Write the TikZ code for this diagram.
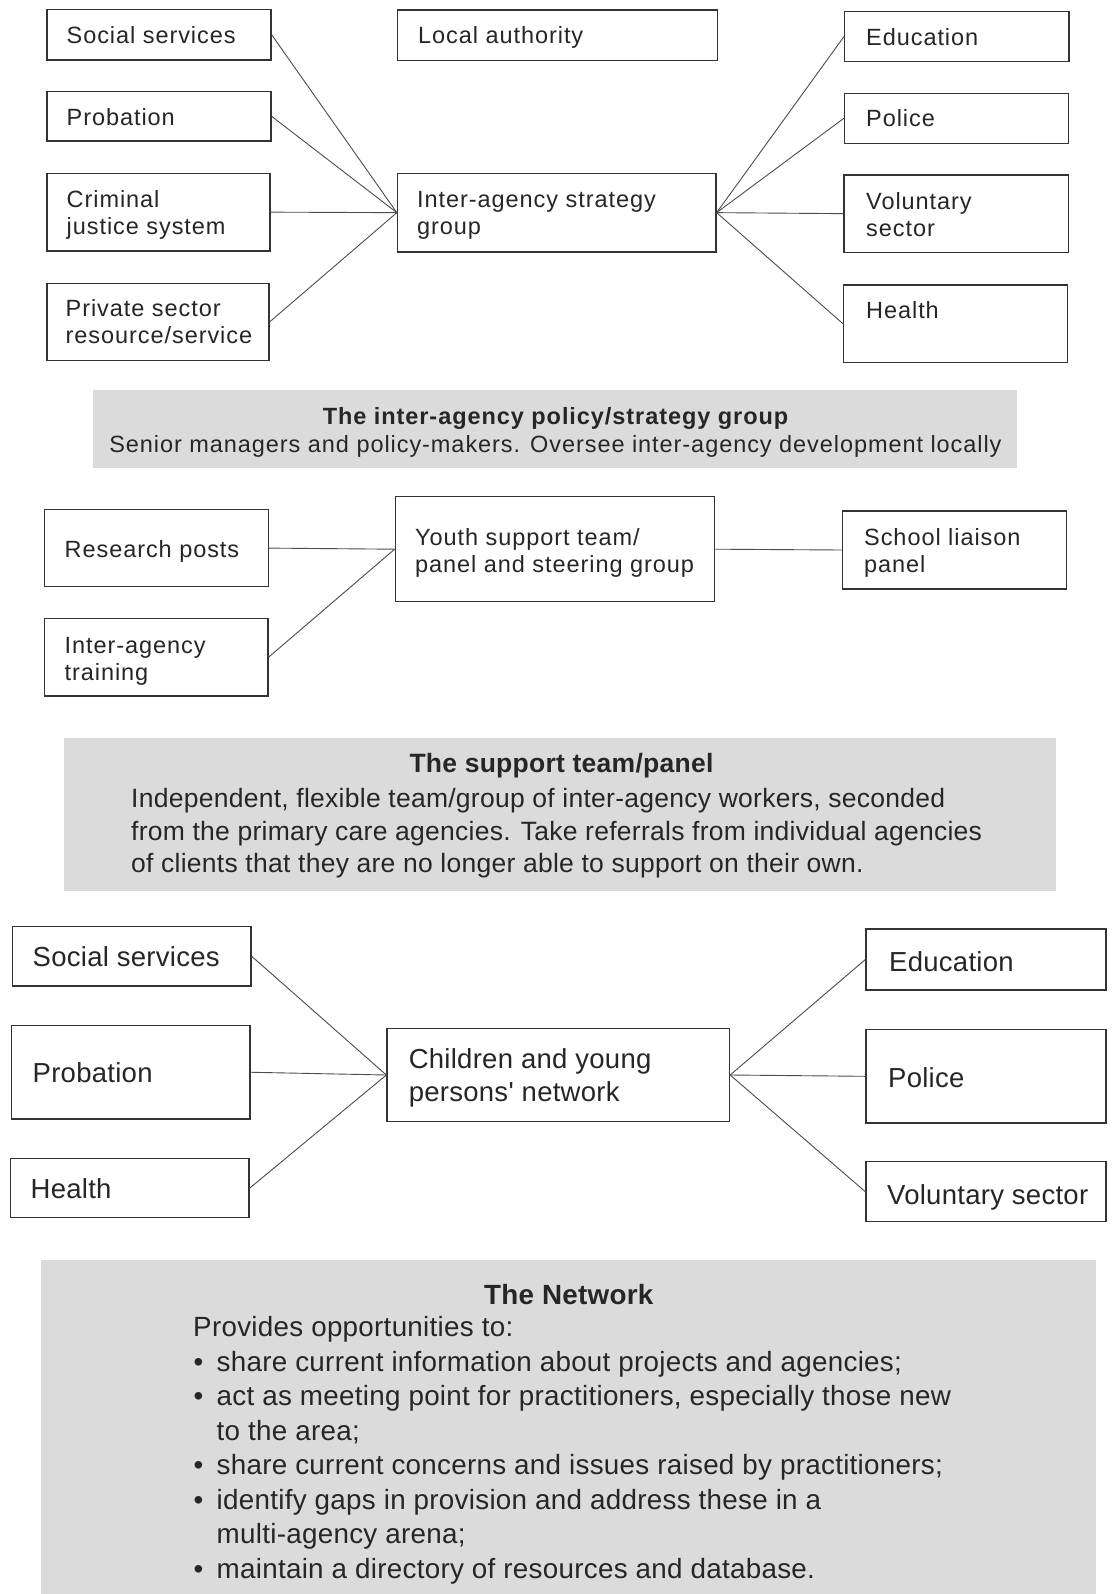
\documentclass[tikz,border=0pt]{standalone}
\usepackage{fontspec}
\setmainfont{Liberation Sans}
\newfontfamily\trackedfont[LetterSpace=4]{Liberation Sans}
\newfontfamily\lowerfont[LetterSpace=1]{Liberation Sans}
\usetikzlibrary{fit}

\newcommand\upperlbl{\trackedfont\fontsize{23.5}{27}\selectfont}
\newcommand\lowerlbl{\lowerfont\fontsize{27.5}{32}\selectfont}
\newcommand\panellbl{\lowerfont\fontsize{26.5}{32}\selectfont}
\newcommand\netlbl{\lowerfont\fontsize{27.8}{34}\selectfont}

\begin{document}
\begin{tikzpicture}[x=1pt,y=-1pt,
  agency/.style={draw=black!80, line width=1.3pt, inner sep=0pt},
  link/.style={draw=black!70, line width=0.9pt},
  band/.style={fill=black!14, draw=none},
  utxt/.style={inner sep=0pt, anchor=base west, text=black!85, font=\upperlbl},
  ltxt/.style={inner sep=0pt, anchor=base west, text=black!85, font=\lowerlbl},
  ptxt/.style={inner sep=0pt, anchor=base west, text=black!85, font=\panellbl},
  ntxt/.style={inner sep=0pt, anchor=base west, text=black!85, font=\netlbl},
  uhead/.style={inner sep=0pt, anchor=base, text=black!85, font=\upperlbl\bfseries},
  ubody/.style={inner sep=0pt, anchor=base, text=black!85, font=\upperlbl},
  phead/.style={inner sep=0pt, anchor=base, text=black!85, font=\panellbl\bfseries},
  nhead/.style={inner sep=0pt, anchor=base, text=black!85, font=\netlbl\bfseries},
]
\fill[white] (0,0) rectangle (1113,1594);
\useasboundingbox (0,0) rectangle (1113,1594);

% ---------------- inter-agency strategy group ----------------
\node[agency, fit={(47,9.5) (271,60)}] (ss1) {};
\node[utxt] (ss1t) at (66.5,43.5) {Social services};
\node[agency, fit={(47,91.7) (271,141)}] (pr1) {};
\node[utxt] (pr1t) at (66.5,125.5) {Probation};
\node[agency, fit={(47,173.3) (270,251)}] (cj1) {};
\node[utxt] (cj1a) at (66.5,207.5) {Criminal};
\node[utxt] (cj1b) at (66.5,234.5) {justice system};
\node[agency, fit={(47,283.3) (269,360.5)}] (ps1) {};
\node[utxt] (ps1a) at (65.5,316.5) {Private sector};
\node[utxt] (ps1b) at (65.5,343.5) {resource/service};

\node[agency, fit={(397.5,10) (717.5,60.7)}] (la1) {};
\node[utxt] (la1t) at (418,44) {Local authority};
\node[agency, fit={(397.5,173.3) (716,252)}] (ia1) {};
\node[utxt] (ia1a) at (417,207.5) {Inter-agency strategy};
\node[utxt] (ia1b) at (417,234.5) {group};

\node[agency, fit={(844.5,11.7) (1069,61.7)}] (ed1) {};
\node[utxt] (ed1t) at (866,45.5) {Education};
\node[agency, fit={(844.5,93.3) (1068.5,143.3)}] (po1) {};
\node[utxt] (po1t) at (866,127) {Police};
\node[agency, fit={(844,175) (1068.5,252.3)}] (vo1) {};
\node[utxt] (vo1a) at (866,210) {Voluntary};
\node[utxt] (vo1b) at (866,236.5) {sector};
\node[agency, fit={(843.5,285) (1067.5,362.3)}] (he1) {};
\node[utxt] (he1t) at (866,318.5) {Health};

\draw[link] (ss1.east) -- (ia1.west);
\draw[link] (pr1.east) -- (ia1.west);
\draw[link] (cj1.east) -- (ia1.west);
\draw[link] (ps1.east) -- (ia1.west);
\draw[link] (ia1.east) -- (ed1.west);
\draw[link] (ia1.east) -- (po1.west);
\draw[link] (ia1.east) -- (vo1.west);
\draw[link] (ia1.east) -- (he1.west);

\fill[band] (93,390) rectangle (1017,468);
\node[uhead] (b1h) at (555.5,424) {The inter-agency policy/strategy group};
\node[ubody] (b1t) at (555.5,452) {Senior managers and policy-makers. Oversee inter-agency development locally};

% ---------------- youth support team ----------------
\node[agency, fit={(44.7,509.5) (268.3,586.7)}] (rp) {};
\node[utxt] (rpt) at (64.5,557.5) {Research posts};
\node[agency, fit={(44.7,618.3) (268,696)}] (it) {};
\node[utxt] (ita) at (64.5,653) {Inter-agency};
\node[utxt] (itb) at (64.5,680) {training};
\node[agency, fit={(395.3,496.7) (714.7,601.7)}] (ys) {};
\node[utxt] (ysa) at (415,545) {Youth support team/};
\node[utxt] (ysb) at (415,572) {panel and steering group};
\node[agency, fit={(842.4,511) (1066.7,589)}] (sl) {};
\node[utxt] (sla) at (864,545) {School liaison};
\node[utxt] (slb) at (864,572) {panel};

\draw[link] (rp.east) -- (ys.west);
\draw[link] (it.east) -- (ys.west);
\draw[link] (ys.east) -- (sl.west);

\fill[band] (63.5,738) rectangle (1056,891);
\node[phead] (b2h) at (561.5,772.5) {The support team/panel};
\node[ptxt] (b2a) at (131,807) {Independent, flexible team/group of inter-agency workers, seconded};
\node[ptxt] (b2b) at (131,840) {from the primary care agencies. Take referrals from individual agencies};
\node[ptxt] (b2c) at (131,872.5) {of clients that they are no longer able to support on their own.};

% ---------------- network ----------------
\node[agency, fit={(12.2,926.5) (251,986)}] (ss2) {};
\node[ltxt] (ss2t) at (32.5,966.6) {Social services};
\node[agency, fit={(11.2,1025.5) (250,1119)}] (pr2) {};
\node[ltxt] (pr2t) at (32.5,1082.5) {Probation};
\node[agency, fit={(10.2,1158.7) (249,1217.6)}] (he2) {};
\node[ltxt] (he2t) at (30.5,1198.3) {Health};
\node[agency, fit={(387,1028.5) (729.5,1121.5)}] (cy2) {};
\node[ltxt] (cy2a) at (408.6,1068) {Children and young};
\node[ltxt] (cy2b) at (408.6,1101) {persons' network};
\node[agency, fit={(866,929) (1106,990)}] (ed2) {};
\node[ltxt] (ed2t) at (889,971.7) {Education};
\node[agency, fit={(866,1029.6) (1106,1123)}] (po2) {};
\node[ltxt] (po2t) at (888,1087.5) {Police};
\node[agency, fit={(866,1161.7) (1106,1221.7)}] (vo2) {};
\node[ltxt] (vo2t) at (887,1204.4) {Voluntary sector};

\draw[link] (ss2.east) -- (cy2.west);
\draw[link] (pr2.east) -- (cy2.west);
\draw[link] (he2.east) -- (cy2.west);
\draw[link] (cy2.east) -- (ed2.west);
\draw[link] (cy2.east) -- (po2.west);
\draw[link] (cy2.east) -- (vo2.west);

\fill[band] (40.5,1260) rectangle (1095.5,1594);
\node[nhead] (b3h) at (568.7,1304) {The Network};
\node[ntxt] (b3p) at (193,1336.6) {Provides opportunities to:};
\node[ntxt] (bu1) at (193.5,1371) {•};
\node[ntxt] (l1) at (216.5,1371) {share current information about projects and agencies;};
\node[ntxt] (bu2) at (193.5,1405.5) {•};
\node[ntxt] (l2) at (216.5,1405.5) {act as meeting point for practitioners, especially those new};
\node[ntxt] (l3) at (216.5,1440) {to the area;};
\node[ntxt] (bu4) at (193.5,1474.5) {•};
\node[ntxt] (l4) at (216.5,1474.5) {share current concerns and issues raised by practitioners;};
\node[ntxt] (bu5) at (193.5,1509) {•};
\node[ntxt] (l5) at (216.5,1509) {identify gaps in provision and address these in a};
\node[ntxt] (l6) at (216.5,1543.5) {multi-agency arena;};
\node[ntxt] (bu7) at (193.5,1578) {•};
\node[ntxt] (l7) at (216.5,1578) {maintain a directory of resources and database.};
\end{tikzpicture}
\end{document}
